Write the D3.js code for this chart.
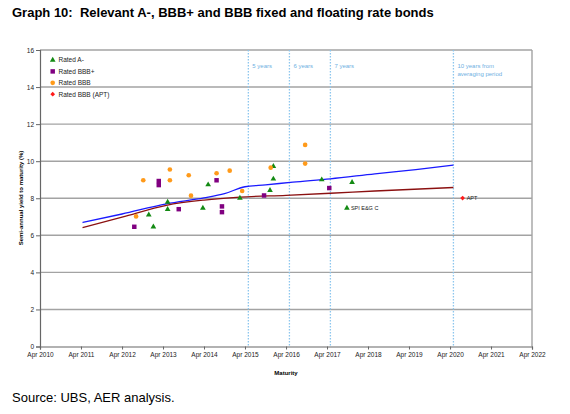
<!DOCTYPE html>
<html>
<head>
<meta charset="utf-8">
<script src="https://cdn.jsdelivr.net/npm/d3@7"></script>
<style>
body { margin: 0; background: #fff; }
svg { display: block; font-family: Arial, "Liberation Sans", sans-serif; }
</style>
</head>
<body>
<svg></svg>
<script>
// bonds: [maturity date, semi-annual yield %]
let ratedAminus = [
  ["2012-11-25", 7.11], ["2013-01-05", 6.46], ["2013-05-12", 7.79], ["2013-05-12", 7.40],
  ["2014-03-22", 7.47], ["2014-05-08", 8.73], ["2015-02-15", 8.01], ["2015-11-10", 8.43],
  ["2015-12-10", 9.72], ["2015-12-10", 9.04], ["2017-02-13", 9.00], ["2017-11-10", 8.86],
  ["2017-09-25", 7.47]
];
let ratedBBBplus = [
  ["2012-07-19", 6.46], ["2013-02-22", 8.93], ["2013-02-22", 8.71], ["2013-08-19", 7.41],
  ["2014-07-22", 8.97], ["2014-09-08", 7.56], ["2014-09-08", 7.25], ["2015-09-18", 8.15],
  ["2017-04-21", 8.55]
];
let ratedBBB = [
  ["2012-08-04", 7.02], ["2012-10-07", 8.97], ["2013-06-01", 9.55], ["2013-06-01", 8.97],
  ["2013-11-16", 9.24], ["2013-12-06", 8.14], ["2014-07-22", 9.35], ["2014-11-16", 9.49],
  ["2015-03-07", 8.39], ["2015-11-16", 9.65], ["2016-09-18", 10.88], ["2016-09-18", 9.87]
];
let ratedAPT = [["2020-07-22", 8.01]];

// fitted curves
let blueCurve = [
  ["2011-04-15", 6.69], ["2012-04-01", 7.15], ["2013-05-01", 7.70], ["2014-04-01", 8.02],
  ["2014-10-01", 8.25], ["2015-04-01", 8.62], ["2015-10-01", 8.72], ["2016-06-01", 8.87],
  ["2017-05-01", 9.05], ["2018-06-01", 9.32], ["2019-06-01", 9.55], ["2020-05-01", 9.79]
];
let redCurve = [
  ["2011-04-15", 6.42], ["2012-04-01", 6.98], ["2013-05-01", 7.62], ["2014-04-01", 7.90],
  ["2015-02-15", 8.06], ["2016-04-01", 8.16], ["2017-05-01", 8.27], ["2018-06-01", 8.39],
  ["2020-05-01", 8.58]
];

let periodDates = ["2015-05-01", "2016-05-01", "2017-05-01", "2020-05-01"];
let periodLabels = [["5 years"], ["6 years"], ["7 years"], ["10 years from", "averaging period"]];
let pointLabels = [["2017-09-25", 7.47, "SPI E&G C"], ["2020-07-22", 8.01, "APT"]];

let yTicks = [0, 2, 4, 6, 8, 10, 12, 14, 16];
let xTickYears = [2010, 2011, 2012, 2013, 2014, 2015, 2016, 2017, 2018, 2019, 2020, 2021, 2022];
let legendNames = ["Rated A-", "Rated BBB+", "Rated BBB", "Rated BBB (APT)"];

var svgWidth = 570, svgHeight = 414;
var parse = d3.timeParse("%Y-%m-%d");
var svg = d3.select("svg").attr("width", svgWidth).attr("height", svgHeight);

var x = d3.scaleTime()
          .domain([new Date(2010, 3, 1), new Date(2022, 3, 1)])
          .range([40, 532]);
var y = d3.scaleLinear().domain([0, 16]).range([346.5, 50]);

// title + source
svg.append("text").attr("x", 12).attr("y", 17)
   .attr("font-size", 13).attr("font-weight", "bold").style("white-space", "pre")
   .text("Graph 10:  Relevant A-, BBB+ and BBB fixed and floating rate bonds");
svg.append("text").attr("x", 12).attr("y", 401.5)
   .attr("font-size", 13).text("Source: UBS, AER analysis.");

// grid
svg.selectAll(".grid").data(yTicks.filter(d => d > 0)).enter().append("line")
   .attr("x1", x.range()[0]).attr("x2", x.range()[1])
   .attr("y1", d => y(d)).attr("y2", d => y(d))
   .attr("stroke", "#a3a3a3").attr("stroke-width", 1.4);
svg.append("line").attr("x1", x.range()[1]).attr("x2", x.range()[1])
   .attr("y1", y(16)).attr("y2", y(0)).attr("stroke", "#a3a3a3").attr("stroke-width", 1.4);

// averaging period markers
svg.selectAll(".period").data(periodDates).enter().append("line")
   .attr("x1", d => x(parse(d))).attr("x2", d => x(parse(d)))
   .attr("y1", y(16)).attr("y2", y(0))
   .attr("stroke", "#8cc6ee").attr("stroke-width", 1.3).attr("stroke-dasharray", "1.5,1.5");
periodDates.forEach((d, i) => {
  periodLabels[i].forEach((t, j) => {
    svg.append("text").attr("x", x(parse(d)) + 4).attr("y", 67.5 + j * 8)
       .attr("font-size", 6).attr("fill", "#6fb0e2").text(t);
  });
});

// axes
var yAxis = svg.append("g").attr("transform", "translate(40,0)")
   .call(d3.axisLeft(y).tickValues(yTicks).tickSize(4).tickPadding(2));
var xAxis = svg.append("g").attr("transform", `translate(0,${y(0)})`)
   .call(d3.axisBottom(x).tickValues(xTickYears.map(yr => new Date(yr, 3, 1)))
           .tickSize(3).tickPadding(3).tickFormat(d3.timeFormat("Apr %Y")));
[yAxis, xAxis].forEach(a => {
  a.select(".domain").attr("stroke", "#666").attr("stroke-width", 1.2);
  a.selectAll(".tick line").attr("stroke", "#666");
  a.selectAll("text").attr("font-size", 6.5).attr("font-family", "Arial, 'Liberation Sans', sans-serif").attr("fill", "#222");
});

svg.append("text").attr("transform", "translate(23,198) rotate(-90)")
   .attr("text-anchor", "middle").attr("font-size", 6).attr("font-weight", "bold")
   .text("Semi-annual yield to maturity (%)");
svg.append("text").attr("x", 286).attr("y", 375)
   .attr("text-anchor", "middle").attr("font-size", 6).attr("font-weight", "bold")
   .text("Maturity");

// curves
var line = d3.line().x(d => x(parse(d[0]))).y(d => y(d[1])).curve(d3.curveMonotoneX);
svg.append("path").datum(blueCurve).attr("d", line)
   .attr("fill", "none").attr("stroke", "#1a1aff").attr("stroke-width", 1.3);
svg.append("path").datum(redCurve).attr("d", line)
   .attr("fill", "none").attr("stroke", "#8b1010").attr("stroke-width", 1.3);

// points (diamond = square turned 45deg)
var series = [
  { data: ratedAminus, shape: d3.symbolTriangle, size: 14, color: "#138a13", rot: 0 },
  { data: ratedBBBplus, shape: d3.symbolSquare, size: 20, color: "#800080", rot: 0 },
  { data: ratedBBB, shape: d3.symbolCircle, size: 17, color: "#ff9a1a", rot: 0 },
  { data: ratedAPT, shape: d3.symbolSquare, size: 11, color: "#ff1a1a", rot: 45 }
];
series.forEach(s => {
  svg.selectAll(null).data(s.data).enter().append("path")
     .attr("d", d3.symbol().type(s.shape).size(s.size))
     .attr("transform", d => `translate(${x(parse(d[0]))},${y(d[1])}) rotate(${s.rot})`)
     .attr("fill", s.color);
});
svg.selectAll(".plabel").data(pointLabels).enter().append("text")
   .attr("x", d => x(parse(d[0])) + 4).attr("y", d => y(d[1]) + 2)
   .attr("font-size", 5.5).attr("fill", "#222").text(d => d[2]);

// legend
series.forEach((s, i) => {
  svg.append("path").attr("d", d3.symbol().type(s.shape).size(s.size))
     .attr("transform", `translate(52.7,${60 + i * 11.4}) rotate(${s.rot})`).attr("fill", s.color);
  svg.append("text").attr("x", 58.5).attr("y", 62.3 + i * 11.4)
     .attr("font-size", 6.5).attr("fill", "#222").text(legendNames[i]);
});
</script>
</body>
</html>
